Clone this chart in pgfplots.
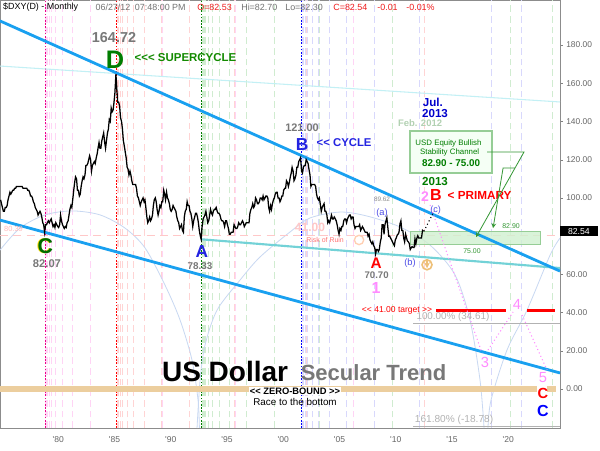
\documentclass[border=0pt]{standalone}
\usepackage{fontspec}
\setmainfont{Liberation Sans}
\usepackage{pgfplots}
\pgfplotsset{compat=1.18}
\definecolor{trendblue}{RGB}{25,160,240}
\definecolor{cyanthick}{RGB}{115,210,215}
\definecolor{cyanfaint}{RGB}{195,240,245}
\definecolor{arcblue}{RGB}{200,216,242}
\definecolor{pinkdash}{RGB}{255,200,200}
\definecolor{tanbar}{RGB}{236,206,158}
\definecolor{lblgray}{RGB}{120,120,120}
\definecolor{dgreen}{RGB}{0,125,0}
\definecolor{lblue}{RGB}{35,35,225}
\definecolor{wpink}{RGB}{255,140,255}
\definecolor{fpink}{RGB}{255,212,245}
\definecolor{fred}{RGB}{255,212,212}
\definecolor{fgreen}{RGB}{208,236,208}
\definecolor{fblue}{RGB}{216,216,252}
\definecolor{boxgreen}{RGB}{150,205,150}
\definecolor{zonegreen}{RGB}{208,240,208}
\definecolor{arrowgreen}{RGB}{50,150,50}
\definecolor{hdrred}{RGB}{240,30,30}
\definecolor{orng}{RGB}{238,192,120}
\newcommand\fs[1]{\fontsize{#1}{#1}\selectfont}
\newcommand\q{\textquotesingle}
\begin{document}
\begin{tikzpicture}[x=0.75pt,y=0.75pt]
\useasboundingbox (0,-22) rectangle (600,428);
\fill[white] (0,-22) rectangle (600,428);
\begin{axis}[at={(0,0)},anchor=south west,scale only axis,width=420pt,height=321pt,
  xmin=1974.827,xmax=2024.6,ymin=-20.4,ymax=203.56,clip=false,
  axis line style={draw=black!45},
  xtick={1980,1985,...,2020},
  xticklabels={\q80,\q85,\q90,\q95,\q00,\q05,\q10,\q15,\q20},
  xtick style={draw=none},
  x tick label style={font=\fs{6.4},text=black!60,yshift=-1pt},
  ytick={0,20,40,60,100,120,140,160,180}, ytick pos=right, yticklabel pos=right,
  tick align=outside, major tick length=2.2pt, ytick style={draw=black!50},
  y tick label style={font=\fs{6.3},text=black!60,xshift=-1pt,
    /pgf/number format/.cd,fixed,fixed zerofill,precision=2,assume math mode=true},
]
% faint Fibonacci time lines
\pgfplotsinvokeforeach{1978.90,1978.98,1979.05,1979.19,1979.41,1979.78,1980.36,1981.30,1982.83,1985.30,1989.30,1995.77,2006.2}{
  \draw[fpink,dash pattern=on 5pt off 3pt,line width=0.55pt] (axis cs:#1,-20.4)--(axis cs:#1,203.56);}
\pgfplotsinvokeforeach{1985.23,1985.31,1985.38,1985.52,1985.74,1986.11,1986.69,1987.63,1989.16,1991.63,1995.63,2002.10,2012.56}{
  \draw[fred,dash pattern=on 5pt off 3pt,line width=0.55pt] (axis cs:#1,-20.4)--(axis cs:#1,203.56);}
\pgfplotsinvokeforeach{1992.82,1992.90,1992.97,1993.11,1993.33,1993.70,1994.28,1995.22,1996.75,1999.22,2003.22,2009.69,2020.15,2023.9}{
  \draw[fgreen,dash pattern=on 5pt off 3pt,line width=0.55pt] (axis cs:#1,-20.4)--(axis cs:#1,203.56);}
\pgfplotsinvokeforeach{2001.67,2001.75,2001.82,2001.96,2002.18,2002.55,2003.13,2004.07,2005.6,2008.07,2012.07,2018.54,2021.2}{
  \draw[fblue,dash pattern=on 5pt off 3pt,line width=0.55pt] (axis cs:#1,-20.4)--(axis cs:#1,203.56);}
% pivot lines
\draw[magenta,dash pattern=on 1.2pt off 1.2pt,line width=0.8pt] (axis cs:1978.83,-20.4)--(axis cs:1978.83,203.56);
\draw[red,dash pattern=on 1.2pt off 1.2pt,line width=0.8pt] (axis cs:1985.16,-20.4)--(axis cs:1985.16,203.56);
\draw[dgreen,dash pattern=on 1.2pt off 1.2pt,line width=0.8pt] (axis cs:1992.75,-20.4)--(axis cs:1992.75,203.56);
\draw[blue,dash pattern=on 1.2pt off 1.2pt,line width=0.8pt] (axis cs:2001.6,-20.4)--(axis cs:2001.6,203.56);
% arcs
\addplot[arcblue,line width=0.6pt,smooth] coordinates {(1974.83,72.7)(1976.60,84.2)(1978.83,91.1)(1981.23,93.2)(1983.72,91.1)(1985.94,84.2)(1987.72,73.8)(1989.49,54.4)(1990.83,36.1)(1991.89,15.2)(1992.43,-5.8)(1992.55,-20.4)};
\addplot[arcblue,line width=0.6pt,smooth] coordinates {(1992.34,-20.4)(1992.61,4.7)(1993.05,23.0)(1994.12,41.3)(1996.16,57.0)(1997.94,69.1)(2000.61,82.2)(2002.38,89.5)(2005.05,92.6)(2007.45,90.5)(2010.38,84.8)(2013.05,75.3)(2015.27,59.7)(2016.6,36.1)(2017.49,4.7)(2017.85,-20.4)};
\addplot[arcblue,line width=0.6pt,smooth] coordinates {(2018.2,-20.4)(2018.47,-5.8)(2019.89,20.4)(2021.67,41.3)(2023.72,70.1)(2024.6,79.0)};
% horizontal references
\addplot[pinkdash,dash pattern=on 6pt off 4pt,line width=0.8pt] coordinates {(1974.83,80.39)(2024.6,80.39)};
\addplot[cyanfaint,line width=0.8pt] coordinates {(1974.83,169.0)(2024.6,150.2)};
\addplot[black!30,line width=0.5pt] coordinates {(2011.54,34.6)(2024.6,34.6)};
\addplot[black!30,line width=0.5pt] coordinates {(2011.54,-19.4)(2024.6,-19.4)};
% zero bound
\addplot[tanbar,line width=4.6pt] coordinates {(1974.83,0)(2022.56,0)};
\addplot[tanbar,line width=4.6pt] coordinates {(2023.4,0)(2024.2,0)};
% green zone
\fill[zonegreen,opacity=0.8] (axis cs:2011.27,82.7) rectangle (axis cs:2022.83,75.9);
\draw[boxgreen,line width=0.6pt] (axis cs:2011.27,82.7) rectangle (axis cs:2022.83,75.9);
% trend lines
\addplot[cyanthick,line width=1.6pt] coordinates {(1992.75,78.33)(2024.6,63.3)};
\addplot[trendblue,line width=2.1pt] coordinates {(1974.83,192.6)(2024.6,61.7)};
\addplot[trendblue,line width=2.1pt] coordinates {(1974.83,88.4)(2024.6,8.4)};
% target lines
\addplot[red,line width=2.3pt] coordinates {(2013.58,41)(2019.80,41)};
\addplot[red,line width=2.3pt] coordinates {(2021.67,41)(2024.16,41)};
% wave projections
\addplot[wpink,dotted,line width=0.8pt] coordinates {(2013.05,96.3)(2017.67,18.8)};
\addplot[wpink,dotted,line width=0.8pt] coordinates {(2018.2,20.4)(2020.43,40.3)};
\addplot[wpink,dotted,line width=0.8pt] coordinates {(2021.23,38.7)(2023.45,9.9)};
\addplot[black,dotted,line width=0.8pt] coordinates {(2012.5,82.5)(2013.4,93)};
% price
\addplot[black,line width=0.95pt] coordinates {
(1974.88,99)(1974.96,97)
(1975.04,95)(1975.13,93)(1975.21,93)(1975.29,95)(1975.38,95)(1975.46,96)(1975.54,99)(1975.63,101)(1975.71,103)(1975.79,102)(1975.88,103)(1975.96,104)
(1976.04,104)(1976.13,105)(1976.21,105)(1976.29,106)(1976.38,106)(1976.46,106)(1976.54,106)(1976.63,106)(1976.71,106)(1976.79,106)(1976.88,105)(1976.96,105)
(1977.04,105)(1977.13,105)(1977.21,105)(1977.29,104)(1977.38,104)(1977.46,103)(1977.54,101)(1977.63,101)(1977.71,100)(1977.79,98)(1977.88,97)(1977.96,95)
(1978.04,94)(1978.13,93)(1978.21,91)(1978.29,92)(1978.38,93)(1978.46,92)(1978.54,90)(1978.63,87)(1978.71,86)(1978.79,82.07)(1978.88,86)(1978.96,86)
(1979.04,87)(1979.13,88)(1979.21,87)(1979.29,88)(1979.38,89)(1979.46,87)(1979.54,85)(1979.63,86)(1979.71,84.5)(1979.79,87)(1979.88,86)(1979.96,85)
(1980.04,84.5)(1980.13,86)(1980.21,91)(1980.29,88)(1980.38,86)(1980.46,85)(1980.54,84)(1980.63,85)(1980.71,84.5)(1980.79,87)(1980.88,88)(1980.96,91)
(1981.04,94)(1981.13,96)(1981.21,95)(1981.29,99)(1981.38,104)(1981.46,108)(1981.54,111)(1981.63,110)(1981.71,104)(1981.79,104)(1981.88,101)(1981.96,102)
(1982.04,106)(1982.13,109)(1982.21,111)(1982.29,110)(1982.38,112)(1982.46,117)(1982.54,117)(1982.63,118)(1982.71,120)(1982.79,122)(1982.88,120)(1982.96,114)
(1983.04,117)(1983.13,118)(1983.21,119)(1983.29,118)(1983.38,121)(1983.46,123)(1983.54,126)(1983.63,129)(1983.71,126)(1983.79,126)(1983.88,130)(1983.96,132)
(1984.04,134)(1984.13,129)(1984.21,126)(1984.29,130)(1984.38,134)(1984.46,136)(1984.54,141)(1984.63,140)(1984.71,147)(1984.79,145)(1984.88,146)(1984.96,150)
(1985.04,155)(1985.13,164.72)(1985.21,157)(1985.29,150)(1985.38,150)(1985.46,148)(1985.54,142)(1985.63,140)(1985.71,136)(1985.79,130)(1985.88,127)(1985.96,124)
(1986.04,121)(1986.13,116)(1986.21,115)(1986.29,112)(1986.38,114)(1986.46,112)(1986.54,109)(1986.63,107)(1986.71,107)(1986.79,107)(1986.88,107)(1986.96,105)
(1987.04,101)(1987.13,100)(1987.21,98)(1987.29,96)(1987.38,98)(1987.46,99)(1987.54,100)(1987.63,98)(1987.71,99)(1987.79,95)(1987.88,90)(1987.96,87)
(1988.04,88)(1988.13,90)(1988.21,88)(1988.29,89)(1988.38,91)(1988.46,96)(1988.54,99)(1988.63,100)(1988.71,98)(1988.79,94)(1988.88,91)(1988.96,93)
(1989.04,96)(1989.13,95)(1989.21,98)(1989.29,98)(1989.38,104)(1989.46,102)(1989.54,99)(1989.63,103)(1989.71,100)(1989.79,99)(1989.88,97)(1989.96,94)
(1990.04,93)(1990.13,94)(1990.21,96)(1990.29,95)(1990.38,94)(1990.46,93)(1990.54,90)(1990.63,88)(1990.71,87)(1990.79,84)(1990.88,85)(1990.96,86)
(1991.04,83)(1991.13,82)(1991.21,90)(1991.29,93)(1991.38,94)(1991.46,98)(1991.54,96)(1991.63,96)(1991.71,93)(1991.79,92)(1991.88,89)(1991.96,85)
(1992.04,88)(1992.13,90)(1992.21,92)(1992.29,92)(1992.38,90)(1992.46,87)(1992.54,83)(1992.63,80)(1992.71,78.33)(1992.79,85)(1992.88,89)(1992.96,90)
(1993.04,91)(1993.13,93)(1993.21,90)(1993.29,87)(1993.38,88)(1993.46,91)(1993.54,94)(1993.63,92)(1993.71,91)(1993.79,93)(1993.88,94)(1993.96,94)
(1994.04,95)(1994.13,93)(1994.21,92)(1994.29,92)(1994.38,91)(1994.46,89)(1994.54,88)(1994.63,88)(1994.71,87)(1994.79,85)(1994.88,88)(1994.96,88)
(1995.04,86)(1995.13,84)(1995.21,81)(1995.29,81)(1995.38,82)(1995.46,82)(1995.54,82)(1995.63,86)(1995.71,85)(1995.79,84)(1995.88,84)(1995.96,85)
(1996.04,87)(1996.13,86)(1996.21,86)(1996.29,87)(1996.38,88)(1996.46,87)(1996.54,85)(1996.63,86)(1996.71,87)(1996.79,87)(1996.88,87)(1996.96,87)
(1997.04,92)(1997.13,94)(1997.21,95)(1997.29,97)(1997.38,95)(1997.46,96)(1997.54,100)(1997.63,99)(1997.71,97)(1997.79,97)(1997.88,98)(1997.96,100)
(1998.04,100)(1998.13,99)(1998.21,101)(1998.29,99)(1998.38,100)(1998.46,101)(1998.54,101)(1998.63,100)(1998.71,95)(1998.79,93)(1998.88,96)(1998.96,94)
(1999.04,97)(1999.13,99)(1999.21,100)(1999.29,102)(1999.38,103)(1999.46,103)(1999.54,100)(1999.63,100)(1999.71,98)(1999.79,99)(1999.88,101)(1999.96,101)
(2000.04,104)(2000.13,105)(2000.21,105)(2000.29,109)(2000.38,108)(2000.46,106)(2000.54,108)(2000.63,111)(2000.71,113)(2000.79,116)(2000.88,114)(2000.96,109)
(2001.04,110)(2001.13,112)(2001.21,116)(2001.29,116)(2001.38,119)(2001.46,120)(2001.54,121)(2001.63,114)(2001.71,113)(2001.79,116)(2001.88,117)(2001.96,117)
(2002.04,120)(2002.13,119)(2002.21,118)(2002.29,115)(2002.38,112)(2002.46,106)(2002.54,107)(2002.63,107)(2002.71,107)(2002.79,107)(2002.88,106)(2002.96,102)
(2003.04,100)(2003.13,99)(2003.21,100)(2003.29,97)(2003.38,93)(2003.46,95)(2003.54,96)(2003.63,97)(2003.71,93)(2003.79,93)(2003.88,91)(2003.96,87)
(2004.04,88)(2004.13,87)(2004.21,89)(2004.29,91)(2004.38,89)(2004.46,89)(2004.54,90)(2004.63,89)(2004.71,88)(2004.79,86)(2004.88,83)(2004.96,81)
(2005.04,84)(2005.13,83)(2005.21,85)(2005.29,85)(2005.38,88)(2005.46,89)(2005.54,89)(2005.63,87)(2005.71,89)(2005.79,90)(2005.88,91)(2005.96,91)
(2006.04,89)(2006.13,90)(2006.21,90)(2006.29,86)(2006.38,84)(2006.46,85)(2006.54,85)(2006.63,85)(2006.71,85)(2006.79,86)(2006.88,83)(2006.96,84)
(2007.04,85)(2007.13,84)(2007.21,83)(2007.29,82)(2007.38,82)(2007.46,82)(2007.54,80)(2007.63,81)(2007.71,78)(2007.79,77)(2007.88,76)(2007.96,77)
(2008.04,75)(2008.13,74)(2008.21,70.7)(2008.29,73)(2008.38,73)(2008.46,72)(2008.54,73)(2008.63,77)(2008.71,79)(2008.79,86)(2008.88,86)(2008.96,81)
(2009.04,86)(2009.13,88)(2009.21,89.62)(2009.29,85)(2009.38,80)(2009.46,80)(2009.54,79)(2009.63,78)(2009.71,77)(2009.79,76)(2009.88,75)(2009.96,78)
(2010.04,79)(2010.13,80.5)(2010.21,81)(2010.29,82)(2010.38,86.5)(2010.46,88)(2010.54,83)(2010.63,83)(2010.71,79)(2010.79,77)(2010.88,81)(2010.96,79)
(2011.04,77.5)(2011.13,77)(2011.21,76)(2011.29,73)(2011.38,74)(2011.46,74.5)(2011.54,74)(2011.63,74)(2011.71,78.5)(2011.79,76)(2011.88,79)(2011.96,80.2)
(2012.04,79)(2012.13,79)(2012.21,79)(2012.29,79)(2012.38,83)(2012.46,82.54)
};
% header
\node[anchor=west,inner sep=0pt,font=\fs{6.7},text=black] at (axis cs:1975.09,199.9) {\$DXY(D) - Monthly};
\node[anchor=west,inner sep=0pt,font=\fs{6.7},text=black!55] at (axis cs:1983.3,199.9) {06/27/12};
\node[anchor=west,inner sep=0pt,font=\fs{6.7},text=black!55] at (axis cs:1986.8,199.9) {07:48:00 PM};
\node[anchor=west,inner sep=0pt,font=\fs{6.7},text=hdrred] at (axis cs:1992.34,199.9) {O=82.53};
\node[anchor=west,inner sep=0pt,font=\fs{6.7},text=black!55] at (axis cs:1996.25,199.9) {Hi=82.70};
\node[anchor=west,inner sep=0pt,font=\fs{6.7},text=black!55] at (axis cs:2000.16,199.9) {Lo=82.30};
\node[anchor=west,inner sep=0pt,font=\fs{6.7},text=hdrred] at (axis cs:2004.43,199.9) {C=82.54};
\node[anchor=west,inner sep=0pt,font=\fs{6.7},text=hdrred] at (axis cs:2008.34,199.9) {-0.01};
\node[anchor=west,inner sep=0pt,font=\fs{6.7},text=hdrred] at (axis cs:2010.92,199.9) {-0.01\%};
% pivot labels
\node[font=\bfseries\fs{10.8},text=lblgray] at (axis cs:1984.96,183.7) {164.72};
\node[font=\bfseries\fs{19},text=dgreen] at (axis cs:1985.05,172.2) {D};
\node[anchor=west,font=\bfseries\fs{8.6},text=dgreen!90!lime] at (axis cs:1986.38,173.2) {<{}<{}< SUPERCYCLE};
\node[font=\bfseries\fs{16},text=yellow!80!orange] at (axis cs:1978.76,75.0) {C};
\node[font=\bfseries\fs{16},text=dgreen!85!black] at (axis cs:1978.86,75.0) {C};
\node[font=\bfseries\fs{8.4},text=lblgray] at (axis cs:1979.0,65.8) {82.07};
\node[font=\bfseries\fs{13},text=lblue] at (axis cs:1992.78,71.7) {A};
\node[font=\bfseries\fs{7.4},text=lblgray] at (axis cs:1992.6,64.4) {78.33};
\node[font=\bfseries\fs{8.2},text=lblgray] at (axis cs:2001.67,136.6) {121.00};
\node[font=\bfseries\fs{13},text=lblue] at (axis cs:2001.67,127.7) {B};
\node[anchor=west,font=\bfseries\fs{8.5},text=lblue] at (axis cs:2002.56,128.7) {<{}< CYCLE};
\node[font=\bfseries\fs{9},text=red!22] at (axis cs:2002.38,84.8) {41.00};
\node[font=\fs{5.2},text=red!55] at (axis cs:2003.72,78.0) {Risk of Ruin};
\node[circle,draw=red!25!orange!30,line width=1pt,inner sep=0pt,minimum size=7pt,font=\fs{5}] at (axis cs:2006.74,78.0) {};
\node[font=\fs{5.6},text=red!28] at (axis cs:1976.03,83.7) {80.39};
\node[font=\bfseries\fs{11.5},text=red] at (axis cs:2008.25,66.0) {A};
\node[font=\bfseries\fs{7.2},text=lblgray] at (axis cs:2008.3,59.65) {70.70};
\node[font=\bfseries\fs{12},text=wpink] at (axis cs:2008.25,52.8) {1};
\node[font=\fs{4.8},text=black!45] at (axis cs:2008.78,99.4) {89.62};
\node[font=\fs{7},text=lblue!80] at (axis cs:2008.78,92.1) {(a)};
\node[font=\fs{7},text=lblue!80] at (axis cs:2011.27,66.0) {(b)};
\node[circle,draw=orng,line width=1.2pt,inner sep=0pt,minimum size=7.5pt] at (axis cs:2012.78,65.0) {};
\draw[orng,line width=1pt,-stealth] (axis cs:2012.78,67.0) -- (axis cs:2012.78,63.2);
\node[font=\fs{6.8},text=lblue!80] at (axis cs:2013.55,93.6) {(c)};
\node[font=\bfseries\fs{10.5},text=wpink] at (axis cs:2012.6,100.8) {2};
\node[font=\bfseries\fs{12},text=red] at (axis cs:2013.58,101.3) {B};
\node[anchor=west,font=\bfseries\fs{8.8},text=red] at (axis cs:2014.2,101.5) {< PRIMARY};
\node[font=\bfseries\fs{8.7},text=dgreen] at (axis cs:2013.49,108.6) {2013};
\node[font=\bfseries\fs{7.1},text=green!40!black!30] at (axis cs:2012.16,139.2) {Feb. 2012};
\node[font=\bfseries\fs{8.7},text=blue!80!black] at (axis cs:2013.3,150.2) {Jul.};
\node[font=\bfseries\fs{8.7},text=blue!80!black] at (axis cs:2013.49,144.4) {2013};
% equity box
\draw[boxgreen,fill=green!4,line width=1.1pt] (axis cs:2011.27,135.0) rectangle (axis cs:2018.56,113.0);
\node[font=\fs{5.9},text=dgreen] at (axis cs:2014.69,128.7) {USD Equity Bullish};
\node[anchor=west,font=\fs{5.9},text=dgreen] at (axis cs:2011.75,124.0) {Stability Channel};
\node[font=\bfseries\fs{7.4},text=dgreen] at (axis cs:2014.92,118.3) {82.90 - 75.00};
\draw[arrowgreen,line width=0.6pt,-stealth] (axis cs:2018.12,124.0) -- (axis cs:2021.40,124.0) -- (axis cs:2017.14,79.5);
\draw[arrowgreen,line width=0.6pt,-stealth] (axis cs:2020.6,115.6) -- (axis cs:2019.54,115.6) -- (axis cs:2018.65,84.2);
\node[font=\fs{5.2},text=dgreen!80] at (axis cs:2020.25,85.3) {82.90};
\node[font=\fs{5.2},text=dgreen!80] at (axis cs:2016.78,72.2) {75.00};
% targets and fib labels
\node[font=\fs{6.4},text=red] at (axis cs:2010.12,41.0) {<{}< 41.00 target >{}>};
\node[font=\fs{7.4},text=black!30] at (axis cs:2015.09,37.7) {100.00\% (34.61)};
\node[font=\fs{7.6},text=black!30] at (axis cs:2015.18,-16.2) {161.80\% (-18.78)};
\node[font=\fs{11},text=wpink] at (axis cs:2017.94,14.1) {3};
\node[font=\fs{11},text=wpink] at (axis cs:2020.78,44.0) {4};
\node[font=\fs{11},text=wpink] at (axis cs:2023.09,5.8) {5};
\node[font=\bfseries\fs{11},text=red] at (axis cs:2023.09,-2.1) {C};
\node[font=\bfseries\fs{12},text=blue] at (axis cs:2023.09,-11.5) {C};
% titles
\node[font=\bfseries\fs{21},text=black] at (axis cs:1994.83,9.4) {US Dollar};
\node[font=\bfseries\fs{16.5},text=lblgray] at (axis cs:2008.03,8.4) {Secular Trend};
\node[fill=white,inner sep=0.8pt,font=\bfseries\fs{7},text=black] at (axis cs:2001.05,-1.0) {<{}< ZERO-BOUND >{}>};
\node[font=\fs{7.4},text=black] at (axis cs:2001.05,-6.8) {Race to the bottom};
% last price box
\node[anchor=west,fill=black,text=white,inner xsep=2pt,inner ysep=1.6pt,font=\fs{6.5},minimum width=28pt] at (axis cs:2024.6,82.54) {82.54};
\end{axis}
\end{tikzpicture}
\end{document}
